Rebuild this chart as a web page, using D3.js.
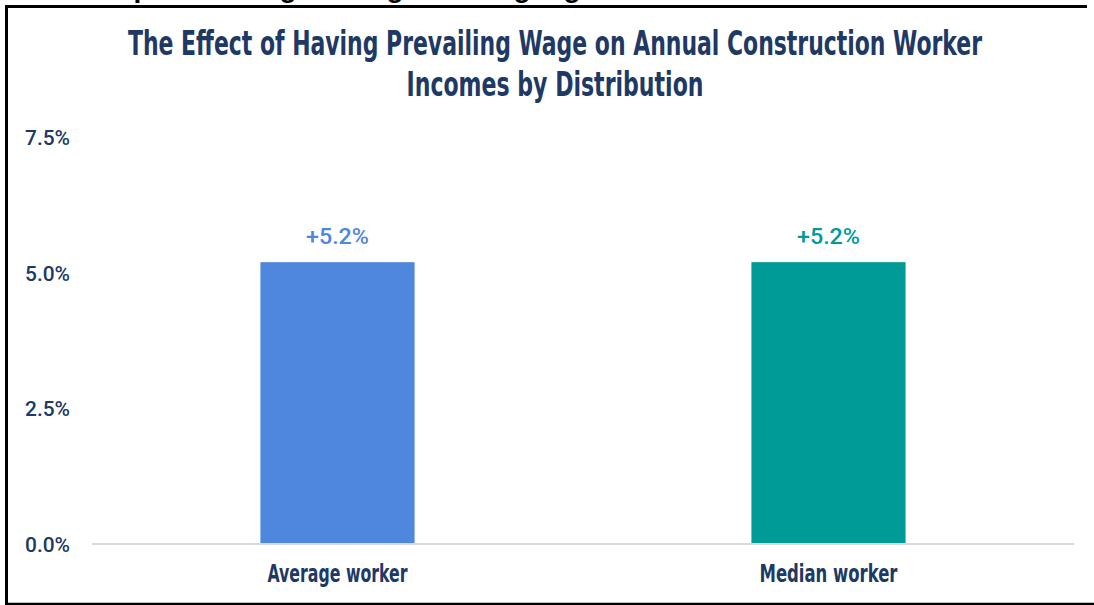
<!DOCTYPE html>
<html><head><meta charset="utf-8">
<script src="https://cdn.jsdelivr.net/npm/d3@7"></script>
<style>html,body{margin:0;padding:0;background:#fff;}svg{display:block;}</style>
</head><body>
<script>
const categories = ["Average worker", "Median worker"];
const values = [5.2, 5.2];
const barColors = ["#4E87DD", "#009A97"];
const valueLabels = ["+5.2%", "+5.2%"];
const yTicks = [0, 2.5, 5.0, 7.5];
const titleLines = ["The Effect of Having Prevailing Wage on Annual Construction Worker", "Incomes by Distribution"];
// clipped heading above the frame (only descenders visible)
const clippedGlyphs = [["p",142],["g",288],["g",395],["g",522],["g",572]];

const W = 1094, H = 605;
const navy = "#203864";
const svg = d3.select("body").append("svg").attr("width", W).attr("height", H);
svg.append("rect").attr("width", W).attr("height", H).attr("fill", "#fff");

// clipped heading glyphs
svg.selectAll("text.clip").data(clippedGlyphs).enter().append("text")
  .attr("x", d => d[1]).attr("y", -3)
  .attr("text-anchor", "middle")
  .attr("font-family", "Liberation Sans, Arial, sans-serif").attr("font-weight", "bold")
  .attr("font-size", 28).attr("fill", "#000").text(d => d[0]);
svg.append("rect").attr("x",0).attr("y",5).attr("width",W).attr("height",H-5).attr("fill","#fff");

// frame
svg.append("line").attr("x1",5).attr("x2",1087).attr("y1",6.5).attr("y2",6.5).attr("stroke","#000").attr("stroke-width",3);
svg.append("line").attr("x1",6.5).attr("x2",6.5).attr("y1",5).attr("y2",605).attr("stroke","#000").attr("stroke-width",3);
svg.append("line").attr("x1",5).attr("x2",1094).attr("y1",604).attr("y2",604).attr("stroke","#000").attr("stroke-width",2.5);

const condensed = "'Liberation Sans Narrow','DejaVu Sans Condensed','Roboto Condensed',sans-serif";

// title
const titleSpecs = [{y:55, len:854}, {y:96, len:297}];
titleLines.forEach((t,i) => {
  svg.append("text").attr("x", 555).attr("y", titleSpecs[i].y)
    .attr("text-anchor","middle")
    .attr("font-family", condensed).attr("font-size", 33).attr("font-weight","bold")
    .attr("fill", navy)
    .attr("textLength", titleSpecs[i].len).attr("lengthAdjust","spacingAndGlyphs")
    .text(t);
});

const x = d3.scaleBand().domain(categories).range([92, 1074]).paddingInner(0.686).paddingOuter(0.343);
const y = d3.scaleLinear().domain([0, 7.5]).range([544, 137.5]);

// y tick labels
svg.selectAll("text.ytick").data(yTicks).enter().append("text")
  .attr("x", 25).attr("y", d => y(d)).attr("dy","0.36em")
  .attr("font-family","Roboto, 'Liberation Sans', sans-serif").attr("font-weight",500)
  .attr("font-size", 21).attr("fill", navy)
  .attr("textLength", 45).attr("lengthAdjust","spacingAndGlyphs")
  .text(d => d.toFixed(1) + "%");

// bars
svg.selectAll("rect.bar").data(categories).enter().append("rect")
  .attr("x", d => x(d)).attr("width", x.bandwidth())
  .attr("y", (d,i) => y(values[i])).attr("height", (d,i) => y(0) - y(values[i]))
  .attr("fill", (d,i) => barColors[i]);

// axis line
const xAxis = svg.append("g").attr("transform", "translate(0,544)")
  .call(d3.axisBottom(x).tickSize(0).tickFormat(""));
xAxis.select(".domain").attr("stroke", "#d9d9d9").attr("stroke-width", 2)
  .attr("d", "M92,0H1074");

// value labels
svg.selectAll("text.val").data(categories).enter().append("text")
  .attr("x", d => x(d) + x.bandwidth()/2).attr("y", (d,i) => y(values[i]) - 18)
  .attr("text-anchor","middle")
  .attr("font-family","Roboto, 'Liberation Sans', Arial, sans-serif").attr("font-weight",500).attr("font-size", 22)
  .attr("fill", (d,i) => barColors[i])
  .attr("textLength", 63).attr("lengthAdjust","spacingAndGlyphs")
  .text((d,i) => valueLabels[i]);

// x labels
const xLabelLens = [140, 138];
svg.selectAll("text.xl").data(categories).enter().append("text")
  .attr("x", d => x(d) + x.bandwidth()/2).attr("y", 582)
  .attr("text-anchor","middle")
  .attr("font-family", condensed).attr("font-size", 24).attr("font-weight","bold")
  .attr("fill", navy)
  .attr("textLength", (d,i) => xLabelLens[i]).attr("lengthAdjust","spacingAndGlyphs")
  .text(d => d);
</script>
</body></html>
